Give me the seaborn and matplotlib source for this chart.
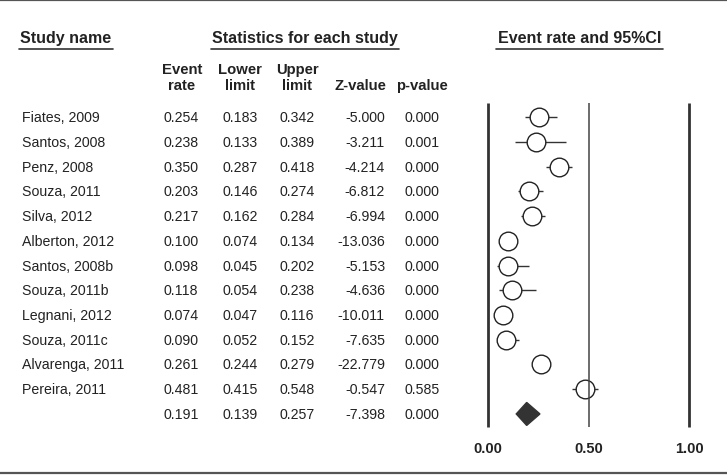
import pandas as pd
import seaborn as sns
import matplotlib.pyplot as plt
from matplotlib.lines import Line2D
from matplotlib.transforms import blended_transform_factory

estudos = ["Fiates, 2009", "Santos, 2008", "Penz, 2008", "Souza, 2011", "Silva, 2012",
           "Alberton, 2012", "Santos, 2008b", "Souza, 2011b", "Legnani, 2012",
           "Souza, 2011c", "Alvarenga, 2011", "Pereira, 2011"]
taxa = [0.254, 0.238, 0.350, 0.203, 0.217, 0.100, 0.098, 0.118, 0.074, 0.090, 0.261, 0.481]
inferior = [0.183, 0.133, 0.287, 0.146, 0.162, 0.074, 0.045, 0.054, 0.047, 0.052, 0.244, 0.415]
superior = [0.342, 0.389, 0.418, 0.274, 0.284, 0.134, 0.202, 0.238, 0.116, 0.152, 0.279, 0.548]
z_valor = [-5.000, -3.211, -4.214, -6.812, -6.994, -13.036, -5.153, -4.636, -10.011,
           -7.635, -22.779, -0.547]
p_valor = [0.000, 0.001, 0.000, 0.000, 0.000, 0.000, 0.000, 0.000, 0.000, 0.000, 0.000, 0.585]

# resumo (modelo combinado)
resumo = {"taxa": 0.191, "inferior": 0.139, "superior": 0.257, "z": -7.398, "p": 0.000}

ticks_x = [0.0, 0.5, 1.0]

sns.set_theme(style="white")
plt.rcParams["font.family"] = ["Liberation Sans", "DejaVu Sans"]

W, H = 727, 477
fig = plt.figure(figsize=(W / 100, H / 100), dpi=100)
ax = fig.add_axes([0, 0, 1, 1])

# escala: x=0 em 488.3 px, x=1 em 689.3 px; linhas a cada 24.72 px a partir de 118.3 px
x0, esc = 488.3, 201.0
y0, passo = 118.3, 24.72
ax.set_xlim(-x0 / esc, (W - x0) / esc)
ax.set_ylim((H - y0) / passo, -y0 / passo)
ax.axis("off")

def linha_px(py):
    return (py - y0) / passo

dados = pd.DataFrame({"estudo": estudos, "taxa": taxa, "inf": inferior,
                      "sup": superior, "z": z_valor, "p": p_valor})
dados["linha"] = range(len(dados))
n = len(dados)

# linhas verticais de referencia
topo, base = linha_px(104), linha_px(428)
ax.vlines([0.0, 1.0], topo, base, color="#333333", lw=2.0, zorder=1)
ax.vlines(0.5, topo, base, color="#444444", lw=1.1, zorder=4)

# intervalos e pontos
ax.hlines(dados["linha"], dados["inf"], dados["sup"], color="#333333", lw=1.0, zorder=2)
sns.scatterplot(data=dados, x="taxa", y="linha", ax=ax, marker="o", s=180,
                facecolor="white", edgecolor="#222222", linewidth=1.0, zorder=3,
                legend=False)

# diamante do resumo
h = 11.5 / passo
ax.fill([resumo["inferior"], resumo["taxa"], resumo["superior"], resumo["taxa"]],
        [n, n - h, n, n + h], color="#333333", zorder=3)

for t in ticks_x:
    ax.text(t, linha_px(449), f"{t:.2f}", ha="center", va="center",
            fontsize=10.5, fontweight="bold", color="#222222")

# tabela
tr = blended_transform_factory(fig.transFigure, ax.transData)
cor = "#222222"
fs = 10.2
for _, r in dados.iterrows():
    y = r["linha"]
    ax.text(22 / W, y, r["estudo"], transform=tr, ha="left", va="center", fontsize=fs, color=cor)
    ax.text(181 / W, y, f"{r['taxa']:.3f}", transform=tr, ha="center", va="center", fontsize=fs, color=cor)
    ax.text(240 / W, y, f"{r['inf']:.3f}", transform=tr, ha="center", va="center", fontsize=fs, color=cor)
    ax.text(297 / W, y, f"{r['sup']:.3f}", transform=tr, ha="center", va="center", fontsize=fs, color=cor)
    ax.text(385 / W, y, f"{r['z']:.3f}", transform=tr, ha="right", va="center", fontsize=fs, color=cor)
    ax.text(422 / W, y, f"{r['p']:.3f}", transform=tr, ha="center", va="center", fontsize=fs, color=cor)

ax.text(181 / W, n, f"{resumo['taxa']:.3f}", transform=tr, ha="center", va="center", fontsize=fs, color=cor)
ax.text(240 / W, n, f"{resumo['inferior']:.3f}", transform=tr, ha="center", va="center", fontsize=fs, color=cor)
ax.text(297 / W, n, f"{resumo['superior']:.3f}", transform=tr, ha="center", va="center", fontsize=fs, color=cor)
ax.text(385 / W, n, f"{resumo['z']:.3f}", transform=tr, ha="right", va="center", fontsize=fs, color=cor)
ax.text(422 / W, n, f"{resumo['p']:.3f}", transform=tr, ha="center", va="center", fontsize=fs, color=cor)

# cabecalhos
def fx(px):
    return px / W

def fy(py):
    return 1 - py / H

fig.text(fx(20), fy(38.5), "Study name", ha="left", va="center", fontsize=11.5,
         fontweight="bold", color="#222222")
fig.text(fx(304.5), fy(38.5), "Statistics for each study", ha="center", va="center",
         fontsize=11.5, fontweight="bold", color="#222222")
fig.text(fx(580), fy(38.5), "Event rate and 95%CI", ha="center", va="center",
         fontsize=11.5, fontweight="bold", color="#222222")
for a, b in [(19, 113), (211, 399), (496, 663)]:
    fig.add_artist(Line2D([fx(a), fx(b)], [fy(49.5), fy(49.5)], color="#333333", lw=1.2))

sub = [(182, "Event\nrate"), (240, "Lower\nlimit"), (297, "Upper\nlimit")]
for cx, txt in sub:
    fig.text(fx(cx), fy(78), txt, ha="center", va="center", fontsize=10.7,
             fontweight="bold", color="#222222", linespacing=1.25)
fig.text(fx(360), fy(86), "Z-value", ha="center", va="center", fontsize=10.7,
         fontweight="bold", color="#222222")
fig.text(fx(422), fy(86), "p-value", ha="center", va="center", fontsize=10.7,
         fontweight="bold", color="#222222")

# bordas superior e inferior
fig.add_artist(Line2D([0, 1], [fy(1), fy(1)], color="#555555", lw=1.6))
fig.add_artist(Line2D([0, 1], [fy(474), fy(474)], color="#555555", lw=1.6))

plt.savefig("out.png", dpi=100)
plt.close()
